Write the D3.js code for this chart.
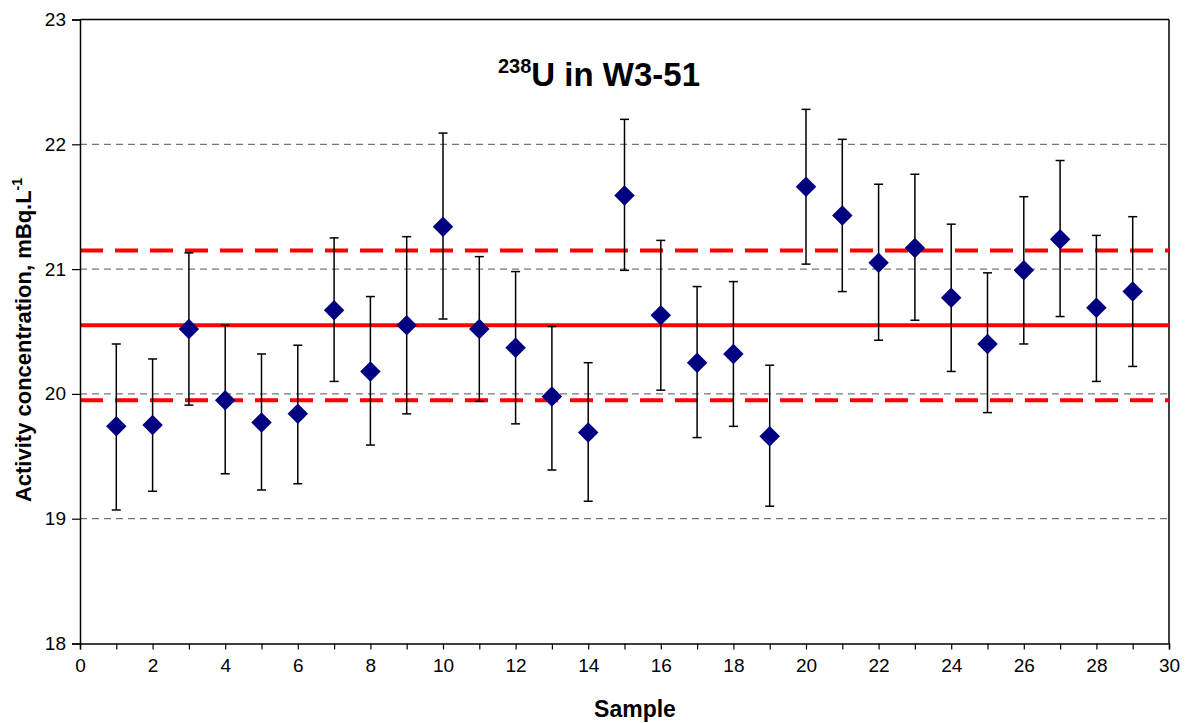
<!DOCTYPE html>
<html lang="en">
<head>
  <meta charset="UTF-8" />
  <title>238U in W3-51</title>
  <script src="https://cdnjs.cloudflare.com/ajax/libs/d3/7.8.2/d3.min.js"></script>
  <style>
    body { margin: 0; padding: 0; background: #fff; }
    svg { display: block; font-family: Arial, "Liberation Sans", sans-serif; }
  </style>
</head>
<body>
<svg id="chart" width="1189" height="723"></svg>
<script>
// ---- data ----
const samples = [1, 2, 3, 4, 5, 6, 7, 8, 9, 10, 11, 12, 13, 14, 15, 16, 17, 18, 19, 20, 21, 22, 23, 24, 25, 26, 27, 28, 29];
const values = [19.74, 19.75, 20.52, 19.95, 19.77, 19.84, 20.67, 20.18, 20.55, 21.34,
                20.52, 20.37, 19.98, 19.69, 21.59, 20.63, 20.25, 20.32, 19.66, 21.66,
                21.43, 21.05, 21.17, 20.77, 20.40, 20.99, 21.24, 20.69, 20.82];
const lows   = [19.07, 19.22, 19.91, 19.36, 19.23, 19.28, 20.10, 19.59, 19.84, 20.60,
                19.94, 19.76, 19.39, 19.14, 20.99, 20.03, 19.65, 19.74, 19.10, 21.04,
                20.82, 20.43, 20.59, 20.18, 19.85, 20.40, 20.62, 20.10, 20.22];
const highs  = [20.40, 20.28, 21.13, 20.55, 20.32, 20.39, 21.25, 20.78, 21.26, 22.09,
                21.10, 20.98, 20.54, 20.25, 22.20, 21.23, 20.86, 20.90, 20.23, 22.28,
                22.04, 21.68, 21.76, 21.36, 20.97, 21.58, 21.87, 21.27, 21.42];
const refMean = 20.55;
const refBand = [19.95, 21.15];
const yGridValues = [19, 20, 21, 22];
const xTickLabels = [0, 2, 4, 6, 8, 10, 12, 14, 16, 18, 20, 22, 24, 26, 28, 30];

// ---- layout ----
const svg = d3.select("#chart");
const plot = { left: 80, right: 1169, top: 19.5, bottom: 643.5 };

const x = d3.scaleLinear().domain([0, 30]).range([plot.left, plot.right]);
const y = d3.scaleLinear().domain([18, 23]).range([plot.bottom, plot.top]);

// gridlines
svg.append("g").selectAll("line")
  .data(yGridValues)
  .join("line")
  .attr("x1", plot.left).attr("x2", plot.right)
  .attr("y1", d => y(d)).attr("y2", d => y(d))
  .attr("stroke", "#555").attr("stroke-width", 1)
  .attr("stroke-dasharray", "7,5");

// frame (top + right)
svg.append("line")
  .attr("x1", plot.left).attr("x2", plot.right)
  .attr("y1", plot.top).attr("y2", plot.top)
  .attr("stroke", "#000").attr("stroke-width", 1.5);
svg.append("line")
  .attr("x1", plot.right).attr("x2", plot.right)
  .attr("y1", plot.top).attr("y2", plot.bottom)
  .attr("stroke", "#000").attr("stroke-width", 1.5);

// reference lines
svg.append("line")
  .attr("x1", plot.left).attr("x2", plot.right)
  .attr("y1", y(refMean)).attr("y2", y(refMean))
  .attr("stroke", "#ff0000").attr("stroke-width", 4);
svg.append("g").selectAll("line")
  .data(refBand)
  .join("line")
  .attr("x1", plot.left).attr("x2", plot.right)
  .attr("y1", d => y(d)).attr("y2", d => y(d))
  .attr("stroke", "#ff0000").attr("stroke-width", 4)
  .attr("stroke-dasharray", "23,12");

// error bars
const pts = samples.map((s, i) => ({ s, v: values[i], lo: lows[i], hi: highs[i] }));
const eb = svg.append("g").attr("stroke", "#000").attr("stroke-width", 1.5);
eb.selectAll(".stem").data(pts).join("line")
  .attr("x1", d => x(d.s)).attr("x2", d => x(d.s))
  .attr("y1", d => y(d.lo)).attr("y2", d => y(d.hi));
eb.selectAll(".capHi").data(pts).join("line")
  .attr("x1", d => x(d.s) - 4.5).attr("x2", d => x(d.s) + 4.5)
  .attr("y1", d => y(d.hi)).attr("y2", d => y(d.hi));
eb.selectAll(".capLo").data(pts).join("line")
  .attr("x1", d => x(d.s) - 4.5).attr("x2", d => x(d.s) + 4.5)
  .attr("y1", d => y(d.lo)).attr("y2", d => y(d.lo));

// diamond markers
const diamond = d3.symbol().type(d3.symbolSquare).size(210);
svg.append("g").selectAll("path")
  .data(pts)
  .join("path")
  .attr("d", diamond)
  .attr("transform", d => `translate(${x(d.s)},${y(d.v)}) rotate(45)`)
  .attr("fill", "#000080");

// axes
const xAxis = d3.axisBottom(x)
  .tickValues(d3.range(0, 31))
  .tickSize(6)
  .tickPadding(9)
  .tickFormat(d => xTickLabels.includes(d) ? d : "");
svg.append("g")
  .attr("transform", `translate(0,${plot.bottom})`)
  .call(xAxis)
  .call(g => g.select(".domain").attr("stroke-width", 1.5))
  .call(g => g.selectAll(".tick line").attr("stroke-width", 1.2));

const yAxis = d3.axisLeft(y)
  .tickValues([18, 19, 20, 21, 22, 23])
  .tickSize(8)
  .tickPadding(6)
  .tickFormat(d3.format("d"));
svg.append("g")
  .attr("transform", `translate(${plot.left},0)`)
  .call(yAxis)
  .call(g => g.select(".domain").attr("stroke-width", 1.5))
  .call(g => g.selectAll(".tick line").attr("stroke-width", 1.2));

svg.selectAll(".tick text")
  .attr("font-family", "Arial, 'Liberation Sans', sans-serif")
  .attr("font-size", 19)
  .attr("fill", "#000");

// title
const title = svg.append("text")
  .attr("x", 599).attr("y", 86)
  .attr("text-anchor", "middle")
  .attr("font-weight", "bold")
  .attr("font-size", 33);
title.append("tspan").attr("font-size", 20).attr("dy", -13).text("238");
title.append("tspan").attr("dy", 13).text("U in W3-51");

// axis titles
svg.append("text")
  .attr("x", 635).attr("y", 717)
  .attr("text-anchor", "middle")
  .attr("font-weight", "bold")
  .attr("font-size", 23)
  .text("Sample");

const yTitle = svg.append("text")
  .attr("transform", "translate(31,340) rotate(-90)")
  .attr("text-anchor", "middle")
  .attr("font-weight", "bold")
  .attr("font-size", 22);
yTitle.append("tspan").text("Activity concentration, mBq.L");
yTitle.append("tspan").attr("font-size", 14).attr("dy", -9).text("-1");
</script>
</body>
</html>
